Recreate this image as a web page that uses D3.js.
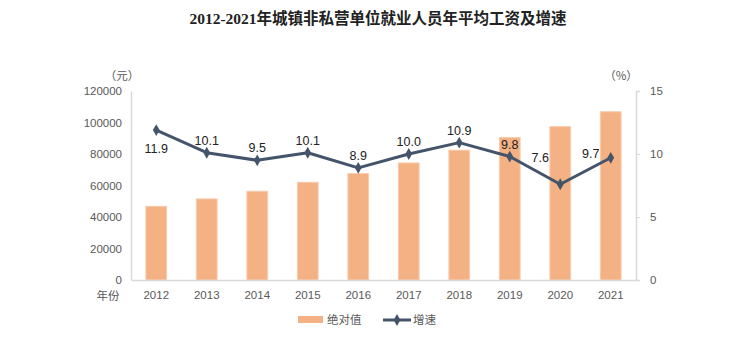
<!DOCTYPE html>
<html><head><meta charset="utf-8">
<script src="https://cdn.jsdelivr.net/npm/d3@7"></script>
<style>body{margin:0;background:#fff}svg{display:block}</style>
</head><body>
<svg id="c" width="756" height="356"></svg>
<script>
const years = ["2012","2013","2014","2015","2016","2017","2018","2019","2020","2021"];
const wages = [46769,51483,56360,62029,67569,74318,82413,90501,97379,106837];
const growth = [11.9,10.1,9.5,10.1,8.9,10.0,10.9,9.8,7.6,9.7];
const labelPlace = ["below","above","above","above","above","above","above","above","upleft","left"];
const leftTicks = [0,20000,40000,60000,80000,100000,120000];
const rightTicks = [0,5,10,15];

const svg = d3.select("#c");
const m = {l:131, r:636, t:91, b:280};
const x = d3.scaleBand().domain(years).range([m.l, m.r]).paddingInner(0.59).paddingOuter(0.295);
const yL = d3.scaleLinear().domain([0,120000]).range([m.b, m.t]);
const yR = d3.scaleLinear().domain([0,15]).range([m.b, m.t]);
const tickFont = "Liberation Sans, Arial, sans-serif";

svg.append("text").attr("x",378).attr("y",24).attr("text-anchor","middle")
  .attr("font-family","Liberation Serif, 'Noto Sans CJK SC', serif").attr("font-weight","bold")
  .attr("font-size",15.5).attr("fill","#222").text("2012-2021年城镇非私营单位就业人员年平均工资及增速");

// bars
svg.append("g").selectAll("rect").data(wages).join("rect")
  .attr("x",(d,i)=>x(years[i])).attr("width",x.bandwidth())
  .attr("y",d=>yL(d)).attr("height",d=>m.b-yL(d))
  .attr("fill","#F4B183").attr("stroke","#F8CBAD").attr("stroke-width",1);

// left axis
const gl = svg.append("g").attr("transform",`translate(${m.l},0)`)
  .call(d3.axisLeft(yL).tickValues(leftTicks).tickSize(0).tickPadding(9).tickFormat(d3.format("d")));
gl.select(".domain").attr("stroke","#D9D9D9").attr("stroke-width",1.5);
gl.selectAll("text").attr("font-family",tickFont).attr("font-size",11.5).attr("fill","#595959");

// right axis
const gr = svg.append("g").attr("transform",`translate(${m.r},0)`)
  .call(d3.axisRight(yR).tickValues(rightTicks).tickSize(4).tickPadding(10));
gr.select(".domain").attr("stroke","#D9D9D9").attr("stroke-width",1.5);
gr.selectAll("line").attr("stroke","#D9D9D9");
gr.selectAll("text").attr("font-family",tickFont).attr("font-size",11.5).attr("fill","#595959");

// bottom axis
const gb = svg.append("g").attr("transform",`translate(0,${m.b})`)
  .call(d3.axisBottom(x).tickSize(0).tickPadding(11));
gb.select(".domain").attr("stroke","#D9D9D9").attr("stroke-width",1.5);
gb.selectAll("text").attr("font-family",tickFont).attr("font-size",11.5).attr("fill","#595959");

svg.append("text").attr("x",108).attr("y",300).attr("text-anchor","middle")
  .attr("font-family","'Noto Sans CJK SC', sans-serif").attr("font-size",11.5).attr("fill","#595959").text("年份");
svg.append("text").attr("x",122).attr("y",80).attr("text-anchor","middle")
  .attr("font-family","'Noto Sans CJK SC', sans-serif").attr("font-size",11.5).attr("fill","#595959").text("（元）");
svg.append("text").attr("x",621).attr("y",80).attr("text-anchor","middle")
  .attr("font-family","'Noto Sans CJK SC', sans-serif").attr("font-size",11.5).attr("fill","#595959").text("（%）");

// line
const cx = i => x(years[i]) + x.bandwidth()/2;
const line = d3.line().x((d,i)=>cx(i)).y(d=>yR(d));
svg.append("path").datum(growth).attr("d",line).attr("fill","none")
  .attr("stroke","#44546A").attr("stroke-width",3).attr("stroke-linejoin","round");
svg.append("g").selectAll("path").data(growth).join("path")
  .attr("d",d3.symbol(d3.symbolDiamond,40))
  .attr("transform",(d,i)=>`translate(${cx(i)},${yR(d)})`).attr("fill","#44546A");

// labels
const dxFor = p => p==="left"||p==="upleft" ? -20 : 0;
const dyFor = p => p==="below" ? 23 : p==="left" ? 0 : p==="upleft" ? -22 : -8;
svg.append("g").selectAll("text").data(growth).join("text")
  .attr("x",(d,i)=>cx(i)+dxFor(labelPlace[i]))
  .attr("y",(d,i)=>yR(d)+dyFor(labelPlace[i]))
  .attr("text-anchor","middle").attr("font-family",tickFont).attr("font-size",12.5).attr("fill","#222")
  .text(d=>d.toFixed(1));

// legend
const lg = svg.append("g");
lg.append("rect").attr("x",298).attr("y",316).attr("width",25).attr("height",7).attr("fill","#F4B183");
lg.append("text").attr("x",327).attr("y",324).attr("font-family","'Noto Sans CJK SC', sans-serif").attr("font-size",11.5).attr("fill","#595959").text("绝对值");
lg.append("line").attr("x1",383).attr("x2",411).attr("y1",320).attr("y2",320).attr("stroke","#44546A").attr("stroke-width",3);
lg.append("path").attr("d",d3.symbol(d3.symbolDiamond,40)).attr("transform","translate(397,320)").attr("fill","#44546A");
lg.append("text").attr("x",413).attr("y",324).attr("font-family","'Noto Sans CJK SC', sans-serif").attr("font-size",11.5).attr("fill","#595959").text("增速");
</script>
</body></html>
